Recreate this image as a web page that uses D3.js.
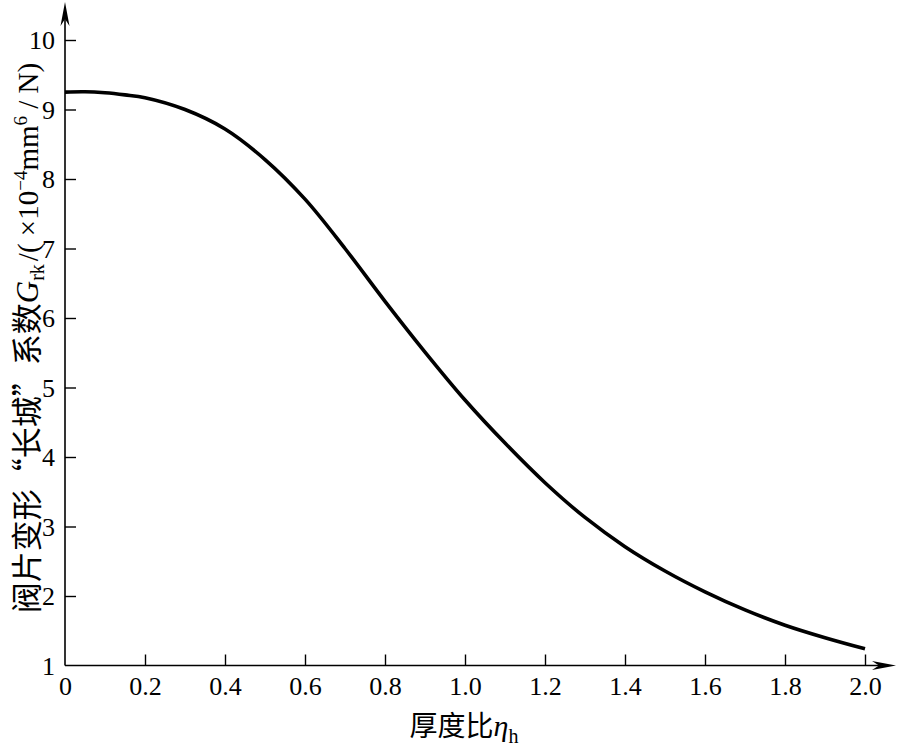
<!DOCTYPE html>
<html><head><meta charset="utf-8">
<script src="https://cdn.jsdelivr.net/npm/d3@7"></script>
<style>body{margin:0;background:#fff}svg{display:block}</style>
</head><body>
<svg id="c" width="898" height="750"></svg>
<script>
const etaValues = [0, 0.05, 0.1, 0.15, 0.2, 0.3, 0.4, 0.5, 0.6, 0.7, 0.8, 0.9, 1.0, 1.1, 1.2, 1.3, 1.4, 1.5, 1.6, 1.7, 1.8, 1.9, 2.0];
const grkValues = [9.25, 9.255, 9.24, 9.21, 9.17, 9.0, 8.72, 8.28, 7.71, 7.0, 6.24, 5.51, 4.82, 4.2, 3.63, 3.13, 2.71, 2.36, 2.06, 1.8, 1.58, 1.4, 1.24];
const xTicks = [0, 0.2, 0.4, 0.6, 0.8, 1.0, 1.2, 1.4, 1.6, 1.8, 2.0];
const xTickLabels = ["0", "0.2", "0.4", "0.6", "0.8", "1.0", "1.2", "1.4", "1.6", "1.8", "2.0"];
const yTicks = [1, 2, 3, 4, 5, 6, 7, 8, 9, 10];

const svg = d3.select("#c");
const x = d3.scaleLinear().domain([0, 2]).range([65, 865]);
const y = d3.scaleLinear().domain([1, 10]).range([665.5, 40]);
const serif = "'Liberation Serif','DejaVu Serif',serif";
const cjk = "'Noto Sans CJK SC',sans-serif";

// axes lines
svg.append("line").attr("x1", x(0)).attr("x2", 884).attr("y1", y(1)).attr("y2", y(1))
  .attr("stroke", "#000").attr("stroke-width", 1.6);
svg.append("line").attr("x1", x(0)).attr("x2", x(0)).attr("y1", y(1)).attr("y2", 18)
  .attr("stroke", "#000").attr("stroke-width", 1.6);
// arrowheads
svg.append("path").attr("d", `M${x(0)},2 L${x(0)-4.5},26 L${x(0)},19 L${x(0)+4.5},26 Z`).attr("fill", "#000");
svg.append("path").attr("d", `M896,${y(1)} L872,${y(1)-4.5} L879,${y(1)} L872,${y(1)+4.5} Z`).attr("fill", "#000");

// x ticks
const xg = svg.append("g").attr("transform", `translate(0,${y(1)})`)
  .call(d3.axisBottom(x).tickValues(xTicks).tickSize(0).tickPadding(0).tickFormat((d, i) => xTickLabels[i]));
xg.select(".domain").remove();
xg.selectAll(".tick text").attr("font-family", serif).attr("font-size", 26).attr("fill", "#000").attr("dy", null).attr("y", 29);
xg.selectAll(".tick").filter(d => d > 0).append("line").attr("y1", 0).attr("y2", -11).attr("stroke", "#000").attr("stroke-width", 1.4);

// y ticks
const yg = svg.append("g").attr("transform", `translate(${x(0)},0)`)
  .call(d3.axisLeft(y).tickValues(yTicks).tickSize(0).tickPadding(0).tickFormat(d3.format("d")));
yg.select(".domain").remove();
yg.selectAll(".tick text").attr("font-family", serif).attr("font-size", 26).attr("fill", "#000").attr("x", -10).attr("dy", "0.33em");
yg.selectAll(".tick").filter(d => d > 1).append("line").attr("x1", 0).attr("x2", 11).attr("stroke", "#000").attr("stroke-width", 1.4);

// curve
const line = d3.line().x((d, i) => x(etaValues[i])).y(d => y(d)).curve(d3.curveCatmullRom.alpha(0.5));
svg.append("path").datum(grkValues).attr("d", line).attr("fill", "none").attr("stroke", "#000").attr("stroke-width", 3.6);

// x label
const xl = svg.append("text").attr("x", 464).attr("y", 736).attr("text-anchor", "middle").attr("fill", "#000");
xl.append("tspan").attr("font-family", cjk).attr("font-size", 28).text("厚度比");
xl.append("tspan").attr("font-family", serif).attr("font-style", "italic").attr("font-size", 30).text("η");
xl.append("tspan").attr("font-family", serif).attr("font-size", 20).attr("dy", 7).text("h");

// y label
const yl = svg.append("text").attr("transform", "translate(38,338) rotate(-90)").attr("text-anchor", "middle").attr("fill", "#000");
yl.append("tspan").attr("font-family", cjk).attr("font-size", 31).text("阀片变形“长城”系数");
yl.append("tspan").attr("font-family", serif).attr("font-style", "italic").attr("font-size", 31).text("G");
yl.append("tspan").attr("font-family", serif).attr("font-size", 20).attr("dy", 6).text("rk");
yl.append("tspan").attr("font-family", serif).attr("font-size", 29).attr("dy", -6).attr("dx", 3).text("/( ×10");
yl.append("tspan").attr("font-family", serif).attr("font-size", 19).attr("dy", -11).text("−4");
yl.append("tspan").attr("font-family", serif).attr("font-size", 29).attr("dy", 11).text("mm");
yl.append("tspan").attr("font-family", serif).attr("font-size", 19).attr("dy", -11).text("6");
yl.append("tspan").attr("font-family", serif).attr("font-size", 29).attr("dy", 11).text(" / N)");
</script>
</body></html>
